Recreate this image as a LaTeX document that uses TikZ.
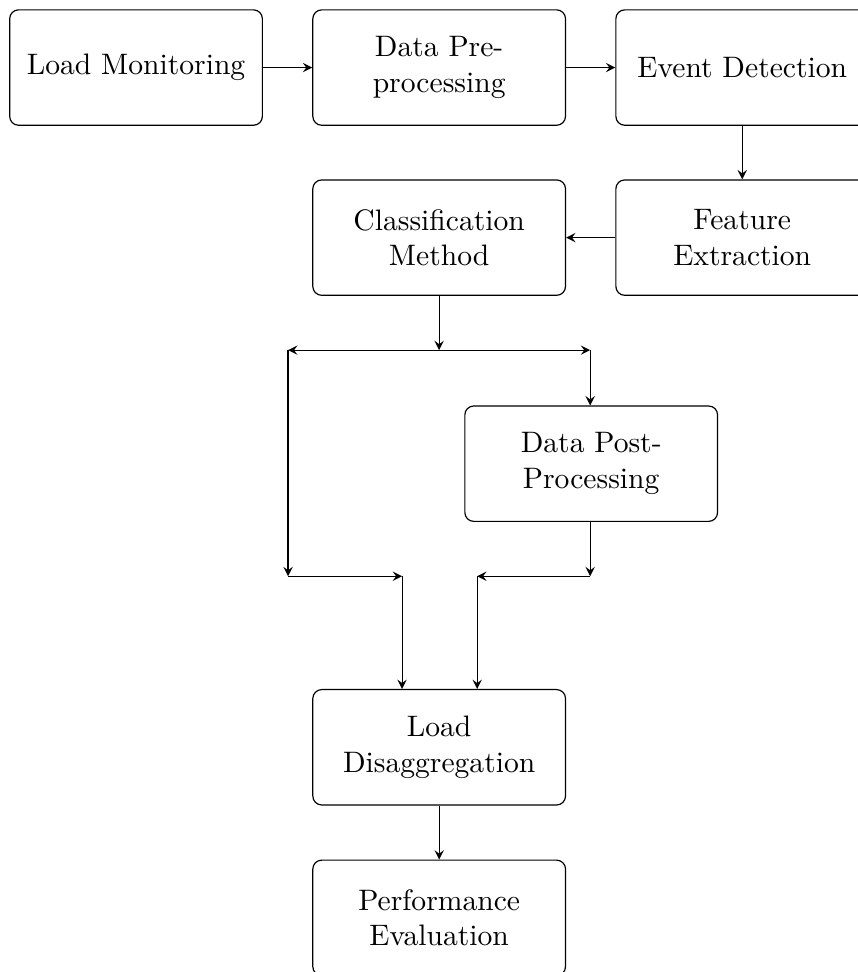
\documentclass[tikz,border=0pt]{standalone}
\usepackage{amsmath,amssymb,amsfonts}
\usepackage{tikz}

\tikzset{block/.style={draw, rounded corners=3pt, minimum width=3cm, minimum height=1.37cm, align=center}}

\begin{document}
\begin{tikzpicture}[>=stealth]
\useasboundingbox (0,0) rectangle (10.18,-11.54);
\node[block] (load) at (1.615,-0.802) {Load Monitoring};
\node[block] (pre) at (5.214,-0.802) {Data Pre-\\processing};
\node[block] (event) at (8.812,-0.802) {Event Detection};
\node[block] (feat) at (8.812,-2.821) {Feature\\Extraction};
\node[block] (class) at (5.214,-2.821) {Classification\\Method};
\node[block] (post) at (7.019,-5.505) {Data Post-\\Processing};
\node[block] (disagg) at (5.214,-8.872) {Load\\Disaggregation};
\node[block] (perf) at (5.214,-10.897) {Performance\\Evaluation};
\coordinate (split) at (5.214,-4.157);
\coordinate (splitl) at (3.420,-4.157);
\coordinate (splitr) at (7.007,-4.157);
\coordinate (joinl) at (3.420,-6.841);
\coordinate (joinr) at (7.007,-6.841);
\coordinate (inl) at (4.774,-6.841);
\coordinate (inr) at (5.665,-6.841);
\draw[->] (load) -- (pre);
\draw[->] (pre) -- (event);
\draw[->] (event.south -| feat.north) -- (feat.north);
\draw[->] (feat) -- (class);
\draw[->] (class) -- (split);
\draw[->] (split) -- (splitl);
\draw[->] (split) -- (splitr);
\draw[->] (splitl) -- (joinl);
\draw[->] (splitr) -- (splitr |- post.north);
\draw[->] (joinl) -- (inl);
\draw[->] (inl) -- (inl |- disagg.north);
\draw[->] (splitr |- post.south) -- (joinr);
\draw[->] (joinr) -- (inr);
\draw[->] (inr) -- (inr |- disagg.north);
\draw[->] (disagg) -- (perf);
\end{tikzpicture}
\end{document}
